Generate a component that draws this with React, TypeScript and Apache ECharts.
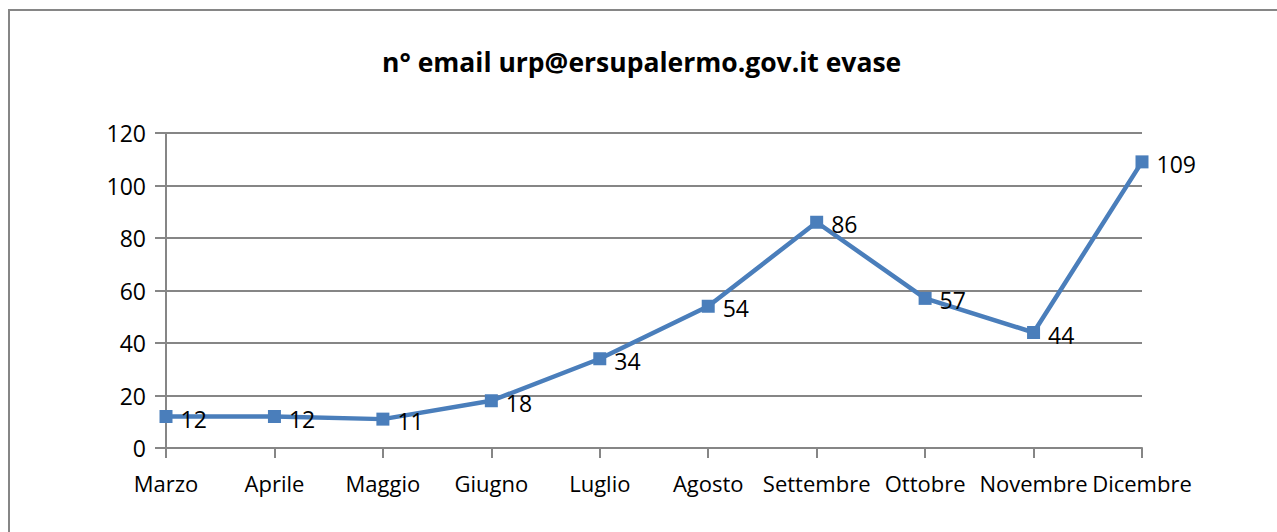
import React, { useEffect, useRef } from "react";
import * as echarts from "echarts";

const titleText = "n° email urp@ersupalermo.gov.it evase";
const months = ["Marzo", "Aprile", "Maggio", "Giugno", "Luglio", "Agosto", "Settembre", "Ottobre", "Novembre", "Dicembre"];
const emails = [12, 12, 11, 18, 34, 54, 86, 57, 44, 109];

const FONT = "'Open Sans', 'Noto Sans', sans-serif";

export default function App() {
  const ref = useRef<HTMLDivElement>(null);
  useEffect(() => {
    document.body.style.margin = "0";
    const chart = echarts.init(ref.current!, null, { renderer: "svg" });
    chart.setOption({
      animation: false,
      backgroundColor: "#ffffff",
      title: {
        text: titleText,
        left: 377,
        top: 43,
        textStyle: { fontFamily: FONT, fontWeight: "bold", fontSize: 26.5, color: "#000" },
      },
      graphic: [
        {
          type: "rect",
          shape: { x: 9, y: 10, width: 1400, height: 700 },
          style: { fill: "none", stroke: "#868686", lineWidth: 2 },
          silent: true,
        },
      ],
      grid: { left: 166, right: 135, top: 133, bottom: 84, containLabel: false },
      xAxis: {
        type: "category",
        data: months,
        boundaryGap: false,
        axisLine: { lineStyle: { color: "#868686", width: 2 } },
        axisTick: { show: true, length: 10, lineStyle: { color: "#868686", width: 2 } },
        axisLabel: { fontFamily: FONT, fontSize: 22, color: "#000", margin: 24, interval: 0 },
        splitLine: { show: false },
      },
      yAxis: {
        type: "value",
        min: 0,
        max: 120,
        interval: 20,
        axisLine: { show: true, lineStyle: { color: "#868686", width: 2 } },
        axisTick: { show: true, inside: false, length: 11, lineStyle: { color: "#868686", width: 2 } },
        axisLabel: { fontFamily: FONT, fontSize: 23, color: "#000", margin: 20 },
        splitLine: { show: true, lineStyle: { color: "#868686", width: 2 } },
      },
      series: [
        {
          type: "line",
          data: emails,
          symbol: "rect",
          symbolSize: 13,
          lineStyle: { color: "#4a7ebb", width: 4.5 },
          itemStyle: { color: "#4a7ebb" },
          label: {
            show: true,
            position: "right",
            distance: 8,
            offset: [0, 2],
            fontFamily: FONT,
            fontSize: 23,
            color: "#000",
          },
        },
      ],
    });
    return () => chart.dispose();
  }, []);
  return <div ref={ref} style={{ width: 1277, height: 532 }} />;
}
